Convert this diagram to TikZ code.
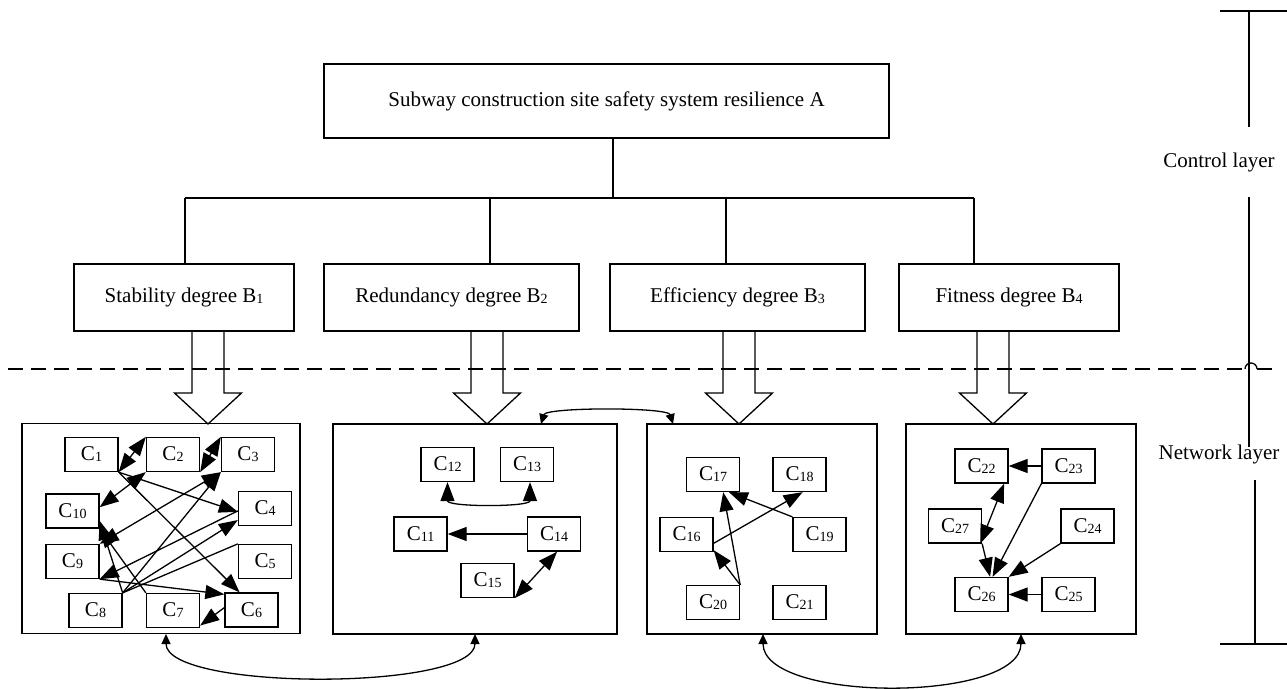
\documentclass[tikz,border=0pt]{standalone}
\usepackage{fontspec}
\setmainfont{Liberation Serif}
\usetikzlibrary{arrows.meta,calc}
% small index digits set after a letter (C1, B2, ...)
\newcommand{\lowidx}[1]{\raisebox{-1pt}{\fontsize{14}{14}\selectfont #1}}
\tikzset{
  one/.style={-{Triangle[length=19pt,width=14pt]}},
  two/.style={{Triangle[length=19pt,width=14pt]}-{Triangle[length=19pt,width=14pt]}},
  stwo/.style={{Triangle[length=10pt,width=9pt]}-{Triangle[length=10pt,width=9pt]}},
  cbox/.style={draw, minimum width=53pt, minimum height=34pt},
  bbox/.style={draw, minimum height=67pt},
  group/.style={draw, minimum height=210pt},
  dashline/.style={dash pattern=on 15pt off 8pt},
  brk/.style={line width=1.8pt},
  hollow/.pic={\draw (-16,-93) -- (-16,-31) -- (-33.5,-31) -- (0,0) -- (33.5,-31) -- (16,-31) -- (16,-93);}
}
\begin{document}
\begin{tikzpicture}[x=1pt,y=-1pt,line width=1.3pt,
  every node/.style={font=\fontsize{21}{24}\selectfont, inner sep=0pt}]
\useasboundingbox (0,0) rectangle (1287,688);

% ---------- control layer ----------
\node[draw, minimum width=565pt, minimum height=74pt] (A) at (606.5,101)
  {Subway construction site safety system resilience A};
\node[bbox, minimum width=220pt] (B1) at (184,297.5) {Stability degree B\lowidx{1}};
\node[bbox, minimum width=255pt] (B2) at (451.5,297.5) {Redundancy degree B\lowidx{2}};
\node[bbox, minimum width=255pt] (B3) at (737.5,297.5) {Efficiency degree B\lowidx{3}};
\node[bbox, minimum width=220pt] (B4) at (1009,297.5) {Fitness degree B\lowidx{4}};

\coordinate (j0) at (613,198);
\coordinate (j1) at (185,198);
\coordinate (j2) at (490,198);
\coordinate (j3) at (726,198);
\coordinate (j4) at (974,198);
\draw (j0 |- A.south) -- (j0);
\draw (j1) -- (j4);
\foreach \j/\b in {j1/B1,j2/B2,j3/B3,j4/B4} \draw (\j) -- (\j |- \b.north);

% ---------- network layer groups ----------
\node[group, minimum width=278pt] (K1) at (161,528.5) {};
\node[group, minimum width=284pt] (K2) at (475,529) {};
\node[group, minimum width=230pt] (K3) at (762,529) {};
\node[group, minimum width=230pt] (K4) at (1021,529) {};

% hollow arrows from criteria to groups
\coordinate (h1) at (208,424);
\coordinate (h2) at (487,424);
\coordinate (h3) at (739,424);
\coordinate (h4) at (993,424);
\foreach \h in {h1,h2,h3,h4} \pic at (\h) {hollow};

% layer separation
\draw[dashline] (8,369) -- (1245,369);
\draw (1245,369) arc[start angle=180,end angle=360,radius=6];
\draw[dashline] (1257,369) -- (1272,369);

% ---------- group 1 ----------
\node[cbox] (C1) at (91.5,454.5) {C\lowidx{1}};
\node[cbox] (C2) at (173,454.5) {C\lowidx{2}};
\node[cbox] (C3) at (248,454.5) {C\lowidx{3}};
\node[cbox] (C10) at (72.5,511) {C\lowidx{10}};
\node[cbox] (C4) at (265,508.5) {C\lowidx{4}};
\node[cbox] (C9) at (72.5,561.5) {C\lowidx{9}};
\node[cbox] (C5) at (265,561.5) {C\lowidx{5}};
\node[cbox] (C8) at (95.5,610.5) {C\lowidx{8}};
\node[cbox] (C7) at (173,610.5) {C\lowidx{7}};
\node[cbox] (C6) at (251.5,610) {C\lowidx{6}};

\draw[two] (C1.south east) -- (C2.north west);
\draw[two] (C2.south east) -- (C3.north west);
\draw[two] (C2.south west) -- (C10.8);
\draw[one] (C1.south east) -- (C4.187);
\draw[one] (C1.south east) -- (C6.124);
\draw[two] (C3.south west) -- (C9.north east);
\draw[one] (C8.north east) -- (C3.south west);
\draw[one] (C8.north east) -- (C4.203);
\draw[one] (C4.185) -- (C9.south east);
\draw (C8.north east) -- (C5.north west);
\draw[one] (C9.south east) -- (C6.150);
\draw[one] (C6.175) -- (C7.-29);
\draw[one] (C7.north west) -- (C10.south east);
\draw[one] (C8.north east) -- (C10.-20);

% ---------- group 2 ----------
\node[cbox] (C12) at (447.5,464.5) {C\lowidx{12}};
\node[cbox] (C13) at (527,464.5) {C\lowidx{13}};
\node[cbox] (C11) at (420.5,534) {C\lowidx{11}};
\node[cbox] (C14) at (554,534) {C\lowidx{14}};
\node[cbox] (C15) at (487.5,580.5) {C\lowidx{15}};

\draw[two] (C12.south) .. controls +(0,25) and +(0,25) .. ([xshift=3pt]C13.south);
\draw[one] (C14.west) -- (C11.east);
\draw[two] (C14.-80) -- (C15.south east);

% ---------- group 3 ----------
\node[cbox] (C17) at (713,474.5) {C\lowidx{17}};
\node[cbox] (C18) at (799.5,474.5) {C\lowidx{18}};
\node[cbox] (C16) at (686.5,534.5) {C\lowidx{16}};
\node[cbox] (C19) at (819.5,534.5) {C\lowidx{19}};
\node[cbox] (C20) at (713,602.5) {C\lowidx{20}};
\node[cbox] (C21) at (799.5,602.5) {C\lowidx{21}};

\draw[one] (C19.north west) -- (C17.-48);
\draw[one] (C20.north east) -- (C17.-60);
\draw[one] (C16.-18) -- (C18.-80);
\draw[one] (C20.north east) -- (C16.-30);

% ---------- group 4 ----------
\node[cbox] (C22) at (981.5,466) {C\lowidx{22}};
\node[cbox] (C23) at (1068.5,466) {C\lowidx{23}};
\node[cbox] (C27) at (955,526) {C\lowidx{27}};
\node[cbox] (C24) at (1087.5,526) {C\lowidx{24}};
\node[cbox] (C26) at (981.5,594.5) {C\lowidx{26}};
\node[cbox] (C25) at (1068.5,594.5) {C\lowidx{25}};

\draw[one] (C23.west) -- (C22.east);
\draw[one] (C25.west) -- (C26.east);
\draw[two] (C22.-38) -- (C27.-35);
\draw[one] (C27.south east) -- (C26.64);
\draw[one] (C23.south west) -- (C26.58);
\draw[one] (C24.south west) -- (C26.north east);

% ---------- links between groups ----------
\coordinate (p1) at (541,424);
\coordinate (p2) at (673,424);
\draw[stwo] (p1) .. controls +(5,-17) and +(-5,-17) .. (p2);
\coordinate (q1) at (166,634);
\coordinate (q2) at (475,634);
\draw[stwo] (q1) .. controls +(0,57) and +(0,57) .. (q2);
\coordinate (q3) at (763,634);
\coordinate (q4) at (1021,634);
\draw[stwo] (q3) .. controls +(0,69) and +(0,69) .. (q4);

% ---------- layer bracket ----------
\node (ctl) at (1219,162) {Control layer};
\node (net) at (1219,454) {Network layer};
\draw[brk] (1220,11) -- (1287,11);
\draw[brk] (1249,11) -- (1249,127);
\draw[brk] (1249,197) -- (1249,447);
\draw[brk] (1255,480) -- (1255,644);
\draw[brk] (1220,644) -- (1287,644);
\end{tikzpicture}
\end{document}
